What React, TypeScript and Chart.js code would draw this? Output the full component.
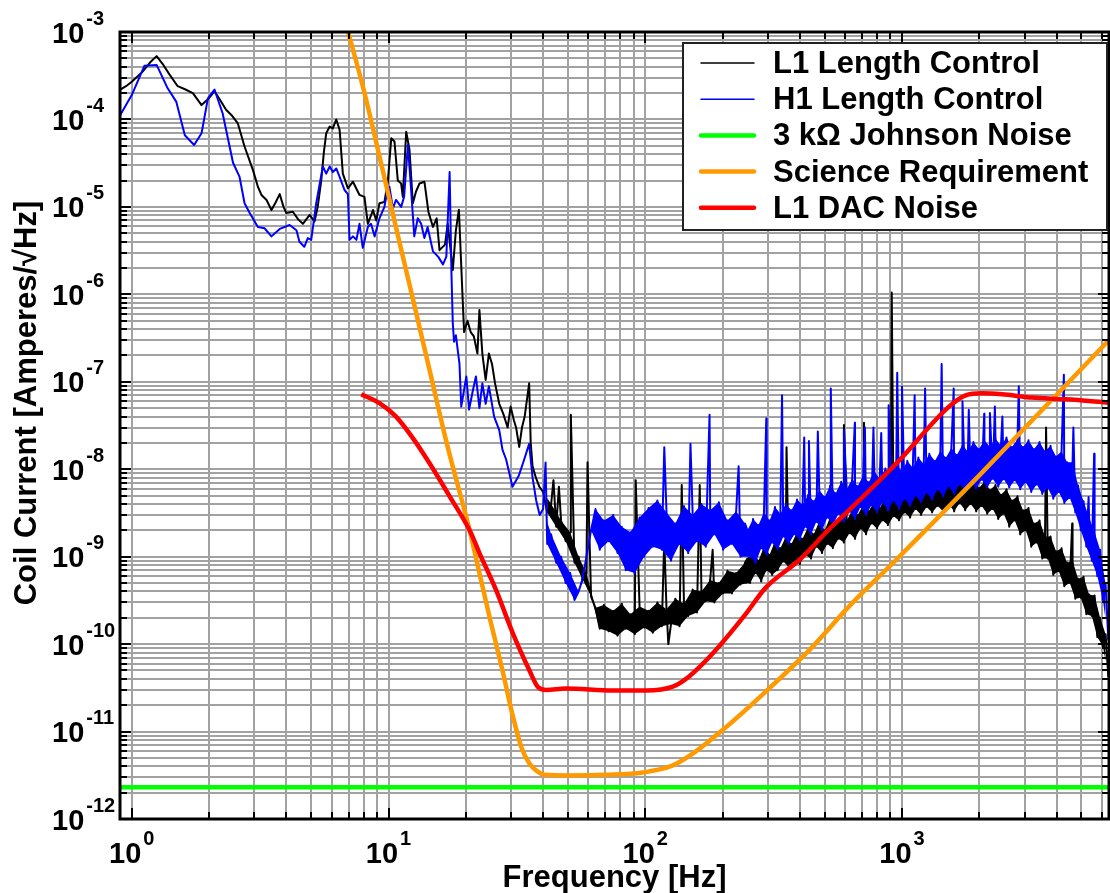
import React, { useEffect, useRef } from 'react';
import { Chart, registerables } from 'chart.js';

Chart.register(...registerables);

type Pt = [number, number];

// ---------- axis / tick data ----------
const X_DECADES = [-1, 0, 1, 2, 3];
const X_LABEL_EXPONENTS = [0, 1, 2, 3];
const Y_DECADES = [-12, -11, -10, -9, -8, -7, -6, -5, -4, -3];
const MANTISSAS = [1, 2, 3, 4, 5, 6, 7, 8, 9];
const X_MIN = 0.9;
const X_MAX = 6400;
const Y_MIN = 1e-12;
const Y_MAX = 1e-3;

const X_TITLE = 'Frequency [Hz]';
const Y_TITLE = 'Coil Current [Amperes/\u221AHz]';

const SERIES_LABELS = [
  'L1 Length Control',
  'H1 Length Control',
  '3 k\u03A9 Johnson Noise',
  'Science Requirement',
  'L1 DAC Noise',
];

// ---------- series data: [frequency Hz, amplitude A/rtHz] ----------
const L1_LOW: Pt[] = [
  [0.88, 2.1e-4], [0.95, 2.4e-4], [1.0, 2.7e-4], [1.1, 3.5e-4], [1.18, 4.5e-4], [1.25, 5.3e-4],
  [1.32, 4.3e-4], [1.4, 3.3e-4], [1.51, 2.4e-4], [1.62, 2.2e-4], [1.73, 2.0e-4], [1.87, 1.46e-4],
  [1.98, 1.7e-4], [2.1, 2.1e-4], [2.2, 1.7e-4], [2.33, 1.29e-4], [2.46, 1.1e-4], [2.59, 9.0e-5],
  [2.75, 4.9e-5], [2.97, 2.6e-5], [3.1, 1.7e-5], [3.2, 1.37e-5], [3.35, 1.2e-5], [3.5, 9.2e-6],
  [3.62, 1.1e-5], [3.77, 1.4e-5], [3.9, 1.0e-5], [4.0, 8.5e-6], [4.24, 8.8e-6], [4.45, 7.2e-6],
  [4.64, 6.4e-6], [4.93, 8.1e-6], [5.15, 6.8e-6], [5.3, 1.0e-5], [5.47, 2.0e-5], [5.6, 4.2e-5],
  [5.72, 6.95e-5], [5.9, 8.3e-5], [6.07, 7.9e-5], [6.26, 1.0e-4], [6.45, 7.6e-5], [6.64, 2.4e-5],
  [6.95, 1.63e-5], [7.27, 1.94e-5], [7.71, 1.37e-5], [8.06, 1.3e-5], [8.31, 6.4e-6], [8.7, 9.2e-6],
  [8.96, 7.0e-6], [9.22, 1.1e-5], [9.64, 1.14e-5], [9.94, 1.94e-5], [10.25, 6.1e-5], [10.55, 5.6e-5],
  [10.87, 2.0e-5], [11.2, 1.85e-5], [11.37, 1.3e-5], [11.72, 7.25e-5], [12.07, 4.5e-5], [12.44, 1.1e-5],
  [12.8, 1.5e-5], [13.2, 1.85e-5], [13.8, 1.94e-5], [14.3, 8.8e-6], [14.9, 5.9e-6], [15.4, 7.4e-6],
  [15.8, 3.2e-6], [16.6, 3.7e-6], [17.0, 6.4e-6], [17.8, 1.9e-6], [18.3, 5.4e-6], [18.8, 9.3e-6],
  [19.4, 1.03e-6], [19.7, 3.7e-7], [20.3, 5.0e-7], [20.9, 3.7e-7], [21.5, 3.3e-7], [22.2, 2.1e-7],
  [22.6, 6.6e-7], [23.2, 2.1e-7], [23.9, 1.05e-7], [24.6, 2.1e-7], [25.3, 1.6e-7], [26.0, 9.6e-8],
  [27.0, 5.6e-8], [28.0, 4.3e-8], [29.1, 3.0e-8], [29.9, 5.2e-8], [30.8, 3.6e-8], [31.4, 3.0e-8],
  [32.3, 1.8e-8], [33.1, 3.0e-8], [33.9, 3.97e-8], [35.3, 9.6e-8], [35.8, 2.0e-8], [36.4, 1.08e-8],
  [37.5, 8.0e-9], [38.7, 6.3e-9],
];

// alternating upper / lower excursions of the noisy trace, 40-250 Hz
const L1_MID: Pt[] = [
  [40, 5.5e-9], [41.5, 3.2e-9], [43, 4.0e-9], [45, 2.2e-9], [47, 2.6e-9], [49, 1.5e-9], [51, 1.9e-9],
  [53, 8.5e-10], [55, 1.0e-9], [57, 5.5e-10], [59, 6.5e-10], [61.5, 3.5e-10], [64, 2.6e-10],
  [66.5, 1.5e-10], [69, 2.8e-10], [72, 1.4e-10], [75, 2.4e-10], [78, 1.25e-10], [81, 2.9e-10],
  [84, 1.5e-10], [87.5, 2.2e-10], [91, 1.3e-10], [95, 2.7e-10], [99, 1.55e-10],
  [103, 2.4e-10], [107, 1.35e-10], [111.5, 3.0e-10], [116, 1.6e-10], [121, 2.5e-10], [126, 1.7e-10],
  [131, 3.3e-10], [136, 1.6e-10], [141.5, 2.9e-10], [147, 2.1e-10], [153, 4.2e-10], [159, 2.3e-10],
  [165.5, 4.0e-10], [172, 3.1e-10], [179, 5.4e-10], [186, 3.0e-10], [193.5, 5.0e-10], [201, 3.8e-10],
  [209, 6.9e-10], [217.5, 3.8e-10], [226, 6.5e-10], [235, 4.8e-10], [244.5, 8.5e-10],
];

// dense high-frequency sampling grid shared by both length-control spectra (rows of 10)
const HF_FREQ = [
  250, 256, 263, 269, 276, 283, 290, 297, 305, 312,
  320, 328, 336, 345, 353, 362, 371, 381, 390, 400,
  410, 420, 431, 442, 453, 464, 476, 488, 500, 512,
  525, 538, 552, 566, 580, 594, 609, 624, 640, 656,
  672, 689, 706, 724, 742, 761, 780, 799, 819, 840,
  861, 882, 904, 927, 950, 974, 998, 1023, 1049, 1075,
  1102, 1130, 1158, 1187, 1216, 1247, 1278, 1310, 1343, 1376,
  1411, 1446, 1482, 1519, 1557, 1596, 1636, 1677, 1719, 1762,
  1806, 1851, 1897, 1945, 1993, 2043, 2094, 2147, 2200, 2255,
  2312, 2370, 2429, 2490, 2552, 2616, 2681, 2748, 2817, 2887,
  2960, 3034, 3109, 3187, 3267, 3349, 3432, 3518, 3606, 3696,
  3789, 3883, 3980, 4080, 4182, 4286, 4394, 4503, 4616, 4731,
  4850, 4971, 5095, 5223, 5353, 5487, 5624, 5765, 5909, 6057,
  6208, 6363,
];

const L1_HF = [
  9.5e-10, 5.0e-10, 1.2e-9, 6.5e-10, 9.0e-10, 5.2e-10, 1.3e-9, 7.0e-10, 1.05e-9, 6.2e-10,
  1.5e-9, 7.0e-10, 1.25e-9, 8.8e-10, 1.7e-9, 7.6e-10, 1.4e-9, 9.0e-10, 1.9e-9, 8.2e-10,
  1.6e-9, 1.05e-9, 2.2e-9, 9.5e-10, 1.8e-9, 1.3e-9, 2.5e-9, 1.1e-9, 2.0e-9, 1.4e-9,
  2.8e-9, 1.25e-9, 2.3e-9, 1.6e-9, 3.1e-9, 1.45e-9, 2.6e-9, 1.85e-9, 3.4e-9, 1.6e-9,
  3.0e-9, 2.1e-9, 3.9e-9, 1.8e-9, 3.3e-9, 2.4e-9, 4.3e-9, 2.1e-9, 3.6e-9, 2.6e-9,
  4.7e-9, 2.3e-9, 4.0e-9, 2.9e-9, 5.1e-9, 2.6e-9, 4.4e-9, 3.2e-9, 5.7e-9, 2.8e-9,
  4.9e-9, 3.5e-9, 6.2e-9, 3.0e-9, 5.3e-9, 3.7e-9, 6.6e-9, 3.2e-9, 5.6e-9, 3.8e-9,
  7.0e-9, 3.3e-9, 5.9e-9, 4.0e-9, 7.4e-9, 3.3e-9, 6.2e-9, 4.1e-9, 7.5e-9, 3.4e-9,
  6.3e-9, 4.0e-9, 7.6e-9, 3.3e-9, 6.1e-9, 3.8e-9, 7.2e-9, 3.1e-9, 5.8e-9, 3.5e-9,
  6.6e-9, 2.7e-9, 5.1e-9, 3.1e-9, 5.9e-9, 2.2e-9, 4.4e-9, 2.6e-9, 4.9e-9, 1.8e-9,
  3.4e-9, 2.0e-9, 3.6e-9, 1.3e-9, 2.4e-9, 1.45e-9, 2.6e-9, 9.5e-10, 1.7e-9, 9.5e-10,
  1.7e-9, 6.2e-10, 1.15e-9, 6.8e-10, 1.25e-9, 4.6e-10, 8.5e-10, 5.0e-10, 9.0e-10, 3.3e-10,
  5.6e-10, 3.4e-10, 5.9e-10, 2.2e-10, 3.7e-10, 2.1e-10, 3.6e-10, 1.2e-10, 2.0e-10, 9.5e-11,
  1.3e-10, 4.2e-11,
];

const L1_SPIKES: Pt[] = [
  [43.9, 7.5e-9], [46.1, 6.3e-9], [51.3, 4.2e-8], [59.6, 1.2e-8], [91.8, 7.5e-9], [118.6, 1.6e-9],
  [123, 1.0e-10], [138.7, 6.6e-9], [163, 6.6e-9], [183, 1.2e-9], [355, 1.78e-8], [594, 3.2e-8],
  [711, 3.4e-8], [912, 1.05e-6], [3640, 3.0e-8], [4600, 2.4e-9],
];

const H1_LOW: Pt[] = [
  [0.88, 9.9e-5], [1.0, 1.9e-4], [1.12, 4.1e-4], [1.25, 4.2e-4], [1.38, 2.27e-4], [1.49, 1.6e-4],
  [1.61, 6.6e-5], [1.75, 5.1e-5], [1.87, 6.95e-5], [1.98, 1.74e-4], [2.1, 2.2e-4], [2.26, 1.17e-4],
  [2.48, 3.2e-5], [2.63, 2.2e-5], [2.75, 1.1e-5], [2.88, 8.5e-6], [3.1, 5.9e-6], [3.29, 5.7e-6],
  [3.5, 4.6e-6], [3.77, 5.6e-6], [4.12, 6.2e-6], [4.38, 5.4e-6], [4.5, 4.0e-6], [4.7, 3.5e-6],
  [4.85, 4.4e-6], [5.0, 4.2e-6], [5.23, 1.1e-5], [5.55, 2.9e-5], [5.72, 2.4e-5], [5.9, 2.9e-5],
  [6.07, 2.5e-5], [6.26, 2.75e-5], [6.45, 2.2e-5], [6.74, 1.56e-5], [6.95, 1.4e-5], [7.05, 4.2e-6],
  [7.27, 4.6e-6], [7.5, 4.2e-6], [7.71, 6.4e-6], [7.94, 3.4e-6], [8.31, 5.9e-6], [8.55, 6.4e-6],
  [8.83, 4.6e-6], [9.22, 7.4e-6], [9.64, 1.0e-5], [9.85, 1.4e-5], [10.08, 1.7e-5], [10.4, 9.6e-6],
  [10.7, 1.2e-5], [11.2, 1.0e-5], [11.5, 1.3e-5], [11.9, 5.1e-5], [12.25, 1.56e-5], [12.6, 4.6e-6],
  [13.0, 7.4e-6], [13.4, 6.4e-6], [13.8, 4.4e-6], [14.2, 5.9e-6], [14.9, 3.1e-6], [15.6, 2.7e-6],
  [16.3, 2.2e-6], [16.8, 2.7e-6], [17.3, 2.5e-5], [17.6, 1.6e-6], [17.8, 4.66e-7], [18.0, 2.87e-7],
  [18.3, 3.4e-7], [18.9, 1.6e-7], [19.2, 5.2e-8], [20.1, 1.15e-7], [20.6, 4.8e-8], [21.3, 7.9e-8],
  [21.9, 1.15e-7], [22.6, 5.0e-8], [23.2, 9.6e-8], [23.9, 5.6e-8], [24.6, 8.9e-8], [25.8, 3.97e-8],
  [27.0, 2.8e-8], [27.8, 1.66e-8], [28.7, 1.3e-8], [30.4, 6.3e-9], [32.2, 8.5e-9], [33.5, 1.2e-8],
  [35.3, 1.95e-8], [36.4, 8.0e-9], [37.6, 4.4e-9], [38.8, 3.0e-9],
];

const H1_MID: Pt[] = [
  [40, 3.5e-9], [41.5, 1.4e-9], [43, 1.8e-9], [45, 8.5e-10], [47, 1.0e-9], [49, 5.0e-10], [51, 6.5e-10],
  [53, 3.2e-10], [55, 4.0e-10], [57, 5.5e-10], [59, 1.0e-9], [61.5, 2.0e-9], [64, 3.5e-9],
  [66.5, 1.2e-9], [69, 2.6e-9], [72, 1.5e-9], [75, 3.0e-9], [78, 1.1e-9], [81, 2.2e-9], [84, 7.0e-10],
  [87.5, 1.9e-9], [91, 6.5e-10], [95, 2.8e-9], [99, 1.0e-9],
  [103, 3.6e-9], [107, 1.3e-9], [111.5, 4.4e-9], [116, 1.2e-9], [121, 3.2e-9], [126, 9.0e-10],
  [131, 2.4e-9], [136, 1.4e-9], [141.5, 3.8e-9], [147, 1.1e-9], [153, 3.0e-9], [159, 1.5e-9],
  [165.5, 4.0e-9], [172, 1.3e-9], [179, 3.4e-9], [186, 1.8e-9], [193.5, 4.2e-9], [201, 1.2e-9],
  [209, 2.6e-9], [217.5, 1.4e-9], [226, 3.3e-9], [235, 1.0e-9], [244.5, 2.4e-9],
];

const H1_HF = [
  2.0e-9, 1.0e-9, 2.7e-9, 8.5e-10, 2.3e-9, 1.25e-9, 3.2e-9, 1.05e-9, 2.6e-9, 1.45e-9,
  3.7e-9, 1.2e-9, 3.1e-9, 1.7e-9, 4.0e-9, 1.4e-9, 3.4e-9, 1.8e-9, 4.5e-9, 1.55e-9,
  3.9e-9, 2.2e-9, 5.1e-9, 1.8e-9, 4.3e-9, 2.5e-9, 5.8e-9, 2.0e-9, 4.8e-9, 2.8e-9,
  6.5e-9, 2.3e-9, 5.3e-9, 3.1e-9, 7.2e-9, 2.5e-9, 5.9e-9, 3.3e-9, 7.8e-9, 2.7e-9,
  6.4e-9, 3.7e-9, 8.5e-9, 3.0e-9, 7.1e-9, 3.9e-9, 9.4e-9, 3.2e-9, 7.8e-9, 4.2e-9,
  1.02e-8, 3.4e-9, 8.7e-9, 4.4e-9, 1.15e-8, 3.5e-9, 9.5e-9, 4.6e-9, 1.25e-8, 3.8e-9,
  1.03e-8, 5.0e-9, 1.36e-8, 4.2e-9, 1.14e-8, 5.4e-9, 1.5e-8, 4.5e-9, 1.24e-8, 5.9e-9,
  1.62e-8, 4.9e-9, 1.35e-8, 6.4e-9, 1.75e-8, 5.2e-9, 1.45e-8, 6.8e-9, 1.9e-8, 5.6e-9,
  1.58e-8, 7.2e-9, 2.05e-8, 6.0e-9, 1.7e-8, 7.6e-9, 2.15e-8, 6.2e-9, 1.8e-8, 7.8e-9,
  2.25e-8, 6.3e-9, 1.85e-8, 7.7e-9, 2.3e-8, 6.2e-9, 1.8e-8, 7.5e-9, 2.2e-8, 5.9e-9,
  1.8e-8, 7.1e-9, 2.15e-8, 5.5e-9, 1.7e-8, 6.7e-9, 2.05e-8, 5.2e-9, 1.6e-8, 6.1e-9,
  1.85e-8, 4.6e-9, 1.4e-8, 5.5e-9, 1.6e-8, 4.1e-9, 1.2e-8, 4.7e-9, 1.2e-8, 3.2e-9,
  6.5e-9, 2.0e-9, 4.3e-9, 1.3e-9, 2.8e-9, 9.0e-10, 1.9e-9, 6.0e-10, 1.2e-9, 3.2e-10,
  4.8e-10, 1.1e-10,
];

const H1_SPIKES: Pt[] = [
  [40.9, 1.19e-8], [118.6, 1.78e-8], [150, 1.95e-8], [178, 4.2e-8], [231, 1.08e-8], [296, 3.8e-8],
  [341, 7.0e-8], [416, 2.3e-8], [434, 2.1e-8], [470, 2.7e-8], [528, 8.4e-8], [594, 2.8e-8],
  [655, 3.4e-8], [717, 3.0e-8], [774, 3.0e-8], [830, 2.6e-8], [887, 5.4e-8], [958, 1.27e-7],
  [1000, 8.8e-8], [1120, 7.0e-8], [1230, 8.4e-8], [1427, 1.6e-7], [1590, 8.4e-8], [1720, 6.0e-8],
  [1820, 4.8e-8], [2090, 4.3e-8], [2200, 4.4e-8], [2300, 5.2e-8], [2460, 4.0e-8], [2850, 8.9e-8],
  [4270, 1.2e-7], [4650, 3.0e-8], [5330, 4.8e-9], [5600, 1.5e-8],
];

const JOHNSON: Pt[] = [[0.85, 2.3e-12], [7000, 2.3e-12]];

const SCIENCE_REQ: Pt[] = [
  [6.7, 1.5e-3], [8, 2.2e-4], [9.5, 2.6e-5], [11, 4.1e-6], [12.5, 8.4e-7], [14.45, 1.36e-7],
  [17, 1.8e-8], [20.7, 2.0e-9], [22.6, 6.5e-10], [25, 1.8e-10], [27.8, 5.0e-11], [30.5, 1.5e-11],
  [33, 6.5e-12], [35.4, 4.3e-12], [38, 3.5e-12], [40.5, 3.2e-12], [50, 3.15e-12], [70, 3.2e-12],
  [97.7, 3.4e-12], [128, 4.1e-12], [157, 5.9e-12], [200, 1.04e-11], [294, 2.85e-11], [448, 9.3e-11],
  [622, 2.7e-10], [945, 9.1e-10], [2000, 8.5e-9], [6400, 3.0e-7],
];

const DAC_NOISE: Pt[] = [
  [7.83, 7.2e-8], [9.22, 5.7e-8], [10.7, 4.0e-8], [12.4, 2.3e-8], [14.45, 1.17e-8], [17.3, 4.9e-9],
  [20.7, 2.0e-9], [22.6, 1.1e-9], [26.2, 4.2e-10], [30.5, 1.33e-10], [35.4, 5.0e-11], [38.1, 3.26e-11],
  [41.1, 2.99e-11], [49, 3.1e-11], [74.8, 2.95e-11], [100.6, 2.95e-11], [128, 3.26e-11],
  [148.6, 4.3e-11], [183, 7.8e-11], [246, 2.2e-10], [294, 4.4e-10], [397, 9.1e-10], [532, 2.2e-9],
  [622, 3.4e-9], [973, 1.25e-8], [1524, 5.2e-8], [1770, 7.0e-8], [2050, 7.4e-8], [2450, 7.2e-8],
  [3200, 6.6e-8], [4340, 6.3e-8], [6400, 5.8e-8],
];

// ---------- styling ----------
const FONT = '"Liberation Sans", Arial, Helvetica, sans-serif';
const COLORS = ['#000000', '#0000ff', '#00ff00', '#ff9900', '#ff0000'];
const WIDTHS = [2, 2, 4.5, 4.5, 4.5];
const LEGEND_WIDTHS = [1.5, 1.5, 4.5, 4.5, 4.5];
const GRID_COLOR = '#a2a2a2';

const zip = (freqs: number[], vals: number[]): Pt[] => {
  const n = Math.min(freqs.length, vals.length);
  const out: Pt[] = [];
  for (let i = 0; i < n; i++) out.push([freqs[i], vals[i]]);
  return out;
};

const toXY = (...lists: Pt[][]) =>
  lists.flat().slice().sort((a, b) => a[0] - b[0]).map(([x, y]) => ({ x, y }));

// split an alternating (upper, lower, upper, ...) noisy trace into its two excursion sides
const sides = (pts: Pt[]) => ({
  upper: pts.filter((_, i) => i % 2 === 0),
  lower: pts.filter((_, i) => i % 2 === 1),
});

type Tick = { value: number; major: boolean };

const buildTicks = (decades: number[], min: number, max: number): Tick[] => {
  const out: Tick[] = [];
  for (const d of decades) {
    for (const m of MANTISSAS) {
      const v = m * Math.pow(10, d);
      if (v >= min * 0.9999 && v <= max * 1.0001) out.push({ value: v, major: m === 1 });
    }
  }
  return out;
};

const X_TICKS = buildTicks(X_DECADES, X_MIN, X_MAX);
const Y_TICKS = buildTicks(Y_DECADES, Y_MIN, Y_MAX);

const drawPow = (
  ctx: CanvasRenderingContext2D,
  exp: number,
  x: number,
  baseY: number,
  supY: number,
  centered: boolean
) => {
  const baseFont = `bold 29px ${FONT}`;
  const supFont = `bold 20px ${FONT}`;
  ctx.font = baseFont;
  const w1 = ctx.measureText('10').width;
  ctx.font = supFont;
  const expText = String(exp);
  const w2 = ctx.measureText(expText).width;
  const total = w1 + 2 + w2;
  const start = centered ? x - total / 2 : x;
  ctx.textAlign = 'left';
  ctx.textBaseline = 'alphabetic';
  ctx.font = baseFont;
  ctx.fillText('10', start, baseY);
  ctx.font = supFont;
  ctx.fillText(expText, start + w1 + 2, supY);
};

const decorPlugin = {
  id: 'decor',
  afterDatasetsDraw(chart: any) {
    const { ctx, chartArea: a } = chart;
    const xs = chart.scales.x;
    const ys = chart.scales.y;
    ctx.save();
    ctx.strokeStyle = '#000';
    ctx.lineWidth = 2;
    ctx.beginPath();
    for (const t of X_TICKS) {
      const px = Math.round(xs.getPixelForValue(t.value));
      if (px < a.left + 1 || px > a.right - 1) continue;
      const len = t.major ? 11 : 7;
      ctx.moveTo(px, a.bottom);
      ctx.lineTo(px, a.bottom - len);
      ctx.moveTo(px, a.top);
      ctx.lineTo(px, a.top + len);
    }
    for (const t of Y_TICKS) {
      const py = Math.round(ys.getPixelForValue(t.value));
      if (py < a.top + 1 || py > a.bottom - 1) continue;
      const len = t.major ? 11 : 7;
      ctx.moveTo(a.left, py);
      ctx.lineTo(a.left + len, py);
      ctx.moveTo(a.right, py);
      ctx.lineTo(a.right - len, py);
    }
    ctx.stroke();
    ctx.lineWidth = 3;
    ctx.strokeRect(a.left, a.top, a.right - a.left, a.bottom - a.top);

    // legend
    const lx = 683, ly = 43, lw = 424, lh = 187;
    ctx.fillStyle = '#ffffff';
    ctx.fillRect(lx, ly, lw, lh);
    ctx.strokeStyle = '#222';
    ctx.lineWidth = 2;
    ctx.strokeRect(lx, ly, lw, lh);
    ctx.font = `bold 31px ${FONT}`;
    ctx.textAlign = 'left';
    ctx.textBaseline = 'alphabetic';
    SERIES_LABELS.forEach((label, i) => {
      const base = 73 + i * 36.2;
      ctx.strokeStyle = COLORS[i];
      ctx.lineWidth = LEGEND_WIDTHS[i];
      ctx.lineCap = 'round';
      ctx.beginPath();
      ctx.moveTo(701, base - 10);
      ctx.lineTo(754, base - 10);
      ctx.stroke();
      ctx.fillStyle = '#000';
      ctx.fillText(label, 773, base);
    });
    ctx.restore();
  },
  afterDraw(chart: any) {
    const { ctx, chartArea: a } = chart;
    const xs = chart.scales.x;
    const ys = chart.scales.y;
    ctx.save();
    ctx.fillStyle = '#000';
    for (const e of X_LABEL_EXPONENTS) {
      const px = xs.getPixelForValue(Math.pow(10, e));
      drawPow(ctx, e, px, 863, 845, true);
    }
    for (const d of Y_DECADES) {
      const py = ys.getPixelForValue(Math.pow(10, d));
      drawPow(ctx, d, 52, py + 10.5, py - 7.5, false);
    }
    ctx.font = `bold 31px ${FONT}`;
    ctx.textAlign = 'center';
    ctx.textBaseline = 'alphabetic';
    ctx.fillText(X_TITLE, (a.left + a.right) / 2, 887);
    ctx.translate(36, 403);
    ctx.rotate(-Math.PI / 2);
    ctx.fillText(Y_TITLE, 0, 0);
    ctx.restore();
  },
};

export default function App() {
  const ref = useRef<HTMLCanvasElement | null>(null);

  useEffect(() => {
    document.body.style.margin = '0';
    const canvas = ref.current;
    if (!canvas) return;

    const l1Mid = sides(L1_MID);
    const l1Hf = sides(zip(HF_FREQ, L1_HF));
    const h1Mid = sides(H1_MID);
    const h1Hf = sides(zip(HF_FREQ, H1_HF));

    const band = (pts: Pt[], color: string, order: number, fillNext: boolean) => ({
      label: '',
      data: toXY(pts),
      borderColor: 'rgba(0,0,0,0)',
      backgroundColor: color,
      borderWidth: 0,
      pointRadius: 0,
      tension: 0,
      fill: fillNext ? '+1' : false,
      order,
      clip: 0,
    });

    const line = (data: any[], i: number, order: number, smooth: boolean) => ({
      label: SERIES_LABELS[i],
      data,
      borderColor: COLORS[i],
      backgroundColor: COLORS[i],
      borderWidth: WIDTHS[i],
      pointRadius: 0,
      fill: false,
      tension: 0,
      cubicInterpolationMode: smooth ? 'monotone' : 'default',
      borderJoinStyle: 'round',
      order,
      clip: 0,
    });

    const datasets = [
      band([...l1Mid.upper, ...l1Hf.upper], COLORS[0], 10, true),
      band([...l1Mid.lower, ...l1Hf.lower], COLORS[0], 10, false),
      line(toXY(L1_LOW, L1_MID, zip(HF_FREQ, L1_HF), L1_SPIKES), 0, 9, false),
      band([...h1Mid.upper, ...h1Hf.upper], COLORS[1], 8, true),
      band([...h1Mid.lower, ...h1Hf.lower], COLORS[1], 8, false),
      line(toXY(H1_LOW, H1_MID, zip(HF_FREQ, H1_HF), H1_SPIKES), 1, 7, false),
      line(toXY(JOHNSON), 2, 3, false),
      line(toXY(SCIENCE_REQ), 3, 2, true),
      line(toXY(DAC_NOISE), 4, 1, true),
    ];

    const chart = new Chart(canvas, {
      type: 'line',
      data: { datasets: datasets as any },
      options: {
        responsive: false,
        animation: false,
        devicePixelRatio: 1,
        events: [],
        layout: { padding: { left: 0, top: 32, right: 1, bottom: 0 } },
        plugins: {
          legend: { display: false },
          tooltip: { enabled: false },
          title: { display: false },
          filler: { propagate: false },
        },
        scales: {
          x: {
            type: 'logarithmic',
            min: X_MIN,
            max: X_MAX,
            afterBuildTicks: (s: any) => {
              s.ticks = X_TICKS.map((t) => ({ value: t.value }));
            },
            afterFit: (s: any) => {
              s.height = 74;
            },
            ticks: { display: false },
            grid: { color: GRID_COLOR, lineWidth: 2, drawTicks: false },
            border: { display: false },
          },
          y: {
            type: 'logarithmic',
            min: Y_MIN,
            max: Y_MAX,
            afterBuildTicks: (s: any) => {
              s.ticks = Y_TICKS.map((t) => ({ value: t.value }));
            },
            afterFit: (s: any) => {
              s.width = 120;
            },
            ticks: { display: false },
            grid: { color: GRID_COLOR, lineWidth: 2, drawTicks: false },
            border: { display: false },
          },
        },
      } as any,
      plugins: [decorPlugin],
    });
    return () => chart.destroy();
  }, []);

  return <canvas ref={ref} width={1110} height={893} style={{ display: 'block', width: 1110, height: 893 }} />;
}
